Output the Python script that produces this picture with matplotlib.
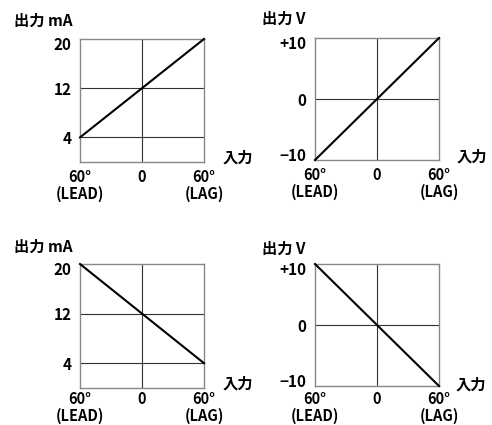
import matplotlib
matplotlib.use('Agg')
import matplotlib.pyplot as plt
from matplotlib.transforms import ScaledTranslation

plt.rcParams['font.family'] = ['Noto Sans CJK JP', 'DejaVu Sans']
plt.rcParams['font.weight'] = 'bold'

W, H = 492, 425

# datos
x_ends = [-60, 60]
x_ticks = [-60, 0, 60]
x_labels = ['60°\n(LEAD)', '0', '60°\n(LAG)']

ma_ticks = [4, 12, 20]
ma_labels = ['4', '12', '20']
ma_lim = (0, 20)

v_ticks = [-10, 0, 10]
v_labels = ['−10', '0', '+10']
v_lim = (-10, 10)

y_p1 = [4, 20]
y_p2 = [-10, 10]
y_p3 = [20, 4]
y_p4 = [10, -10]

# caixas em pixels (esq, topo, dir, baixo)
paineis = [
    dict(box=(80, 39, 204, 162), y=y_p1, ticks=ma_ticks, labels=ma_labels, lim=ma_lim,
         grid=[4, 12], ylab='出力 mA', ylab_xy=(14, 21), xlab_xy=(223, 158), xpad=5),
    dict(box=(315, 38, 439, 160), y=y_p2, ticks=v_ticks, labels=v_labels, lim=v_lim,
         grid=[0], ylab='出力 V', ylab_xy=(262, 19), xlab_xy=(457, 157), xpad=5),
    dict(box=(80, 264, 204, 388), y=y_p3, ticks=ma_ticks, labels=ma_labels, lim=ma_lim,
         grid=[4, 12], ylab='出力 mA', ylab_xy=(14, 247), xlab_xy=(223, 384), xpad=2.5),
    dict(box=(315, 264, 439, 386), y=y_p4, ticks=v_ticks, labels=v_labels, lim=v_lim,
         grid=[0], ylab='出力 V', ylab_xy=(262, 249), xlab_xy=(456, 385), xpad=3.5),
]

fig = plt.figure(figsize=(W / 100, H / 100), dpi=100)

for p in paineis:
    l, t, r, b = p['box']
    ax = fig.add_axes([l / W, 1 - b / H, (r - l) / W, (b - t) / H])
    ax.set_xlim(-60, 60)
    ax.set_ylim(*p['lim'])
    for g in p['grid']:
        ax.axhline(g, color='#333333', lw=0.8, zorder=1)
    ax.axvline(0, color='#333333', lw=0.8, zorder=1)
    ax.plot(x_ends, p['y'], color='black', lw=1.5, clip_on=False, zorder=3)

    ax.set_xticks(x_ticks)
    ax.set_xticklabels(x_labels, fontsize=10.5, linespacing=1.05)
    ax.set_yticks(p['ticks'])
    ax.set_yticklabels(p['labels'], fontsize=11)
    ax.tick_params(axis='both', length=0)
    ax.tick_params(axis='x', pad=p['xpad'])
    ax.tick_params(axis='y', pad=6)
    for s in ax.spines.values():
        s.set_color('#888888')
        s.set_linewidth(1.0)

    # rótulos extremos um pouco para dentro, como no original
    ylbls = ax.get_yticklabels()
    ylbls[-1].set_transform(ylbls[-1].get_transform() + ScaledTranslation(0, -3 / 72, fig.dpi_scale_trans))
    if p['lim'][0] < 0:
        ylbls[0].set_transform(ylbls[0].get_transform() + ScaledTranslation(0, 4 / 72, fig.dpi_scale_trans))

    fig.text(p['ylab_xy'][0] / W, 1 - p['ylab_xy'][1] / H, p['ylab'],
             fontsize=11, ha='left', va='center')
    fig.text(p['xlab_xy'][0] / W, 1 - p['xlab_xy'][1] / H, '入力',
             fontsize=11, ha='left', va='center')

fig.savefig('out.png', dpi=100)
